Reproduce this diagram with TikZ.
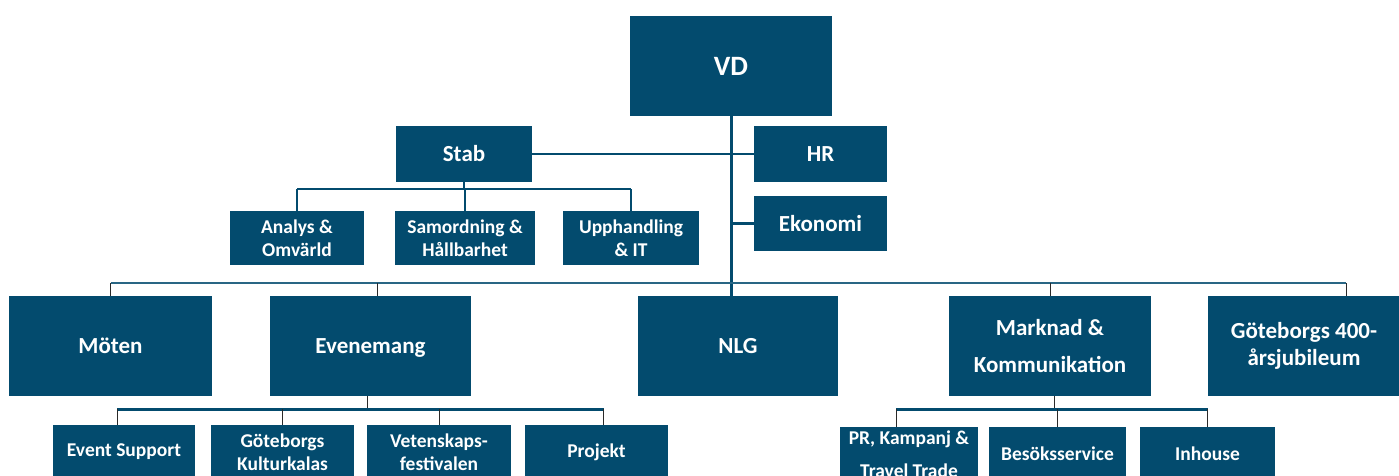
\documentclass[tikz,border=0pt]{standalone}
\usepackage{fontspec}
\setmainfont{Carlito}
\usepackage{tikz}

\definecolor{orgblue}{HTML}{034B6E}
\definecolor{dropgrey}{HTML}{2A2A2A}

\tikzset{
    unit/.style={rectangle, fill=orgblue, text=white, align=center, inner sep=0pt},
    topunit/.style={unit, minimum width=202pt, minimum height=100pt, font=\fontsize{28}{32}\selectfont\bfseries},
    mainunit/.style={unit, minimum height=100pt, font=\fontsize{23}{28}\selectfont\bfseries},
    staffunit/.style={unit, minimum height=55pt, font=\fontsize{23}{28}\selectfont\bfseries},
    subunit/.style={unit, minimum height=54pt, font=\fontsize{19.5}{23}\selectfont\bfseries},
    trunk/.style={draw=orgblue, line width=3pt},
    staff/.style={draw=orgblue, line width=2.2pt},
    bus/.style={draw=orgblue!85, line width=1.5pt},
    subbus/.style={draw=orgblue, line width=3pt},
    drop/.style={draw=dropgrey, line width=1pt}
}

\begin{document}
\begin{tikzpicture}[x=1pt, y=-1pt]
    \useasboundingbox (0,0) rectangle (1399,476);
    \clip (0,0) rectangle (1399,476);

    \node[topunit] (vd) at (731, 66) {VD};

    \node[staffunit, minimum width=136pt] (stab)    at (464, 154)     {Stab};
    \node[staffunit, minimum width=133pt] (hr)      at (820.5, 154) {HR};
    \node[staffunit, minimum width=133pt] (ekonomi) at (820.5, 223.5) {Ekonomi};

    \node[subunit, minimum width=134pt] (analys)      at (297, 238) {Analys \&\\Omvärld};
    \node[subunit, minimum width=140pt] (samordning)  at (465, 238) {Samordning \&\\Hållbarhet};
    \node[subunit, minimum width=136pt] (upphandling) at (631, 238) {Upphandling\\\& IT};

    \node[mainunit, minimum width=203pt] (moten)     at (110.5, 346) {Möten};
    \node[mainunit, minimum width=201pt, text depth=0pt] (evenemang) at (370.5, 346) {Evenemang};
    \node[mainunit, minimum width=200pt] (nlg)       at (738, 346)   {NLG};
    \node[mainunit, minimum width=202pt, font=\fontsize{23}{37}\selectfont\bfseries] (marknad) at (1050, 346) {Marknad \&\\Kommunikation};
    \node[mainunit, minimum width=192pt, font=\fontsize{23}{27}\selectfont\bfseries] (jubileum) at (1304, 346) {Göteborgs 400-\\årsjubileum};

    \node[subunit, minimum width=142pt] (eventsupport) at (124, 452)   {Event Support};
    \node[subunit, minimum width=143pt] (kulturkalas)  at (282.5, 452) {Göteborgs\\Kulturkalas};
    \node[subunit, minimum width=144pt] (vetenskap)    at (439, 452)   {Vetenskaps-\\festivalen};
    \node[subunit, minimum width=143pt] (projekt)      at (596.5, 452) {Projekt};

    \node[subunit, minimum width=138pt, font=\fontsize{19.5}{33}\selectfont\bfseries] (prkampanj) at (909, 454) {PR, Kampanj \&\\Travel Trade};
    \node[subunit, minimum width=137pt] (besok)   at (1057.5, 454) {Besöksservice};
    \node[subunit, minimum width=135pt] (inhouse) at (1207.5, 454) {Inhouse};

    % bus heights
    \coordinate (stabbus) at (0, 189);
    \coordinate (topbus)  at (0, 283);
    \coordinate (subbus)  at (0, 409);
    \coordinate (jubdrop) at (1346, 296);

    % VD and staff
    \path[trunk] (vd) edge (vd.south |- nlg.north);
    \path[staff] (stab) edge (hr);
    \path[staff] (ekonomi) edge (ekonomi.west -| vd.south);
    \path[staff] (stab) edge (stab.south |- stabbus);
    \path[staff] (analys.north |- stabbus) edge (upphandling.north |- stabbus);
    \path[staff] (analys) edge (analys.north |- stabbus);
    \path[staff] (samordning) edge (samordning.north |- stabbus);
    \path[staff] (upphandling) edge (upphandling.north |- stabbus);

    % divisions
    \path[bus] (moten.north |- topbus) edge (jubdrop |- topbus);
    \path[drop] (moten) edge (moten.north |- topbus);
    \path[drop] ([xshift=7pt]evenemang.north) edge ([xshift=7pt]evenemang.north |- topbus);
    \path[drop] (marknad) edge (marknad.north |- topbus);
    \path[drop] (jubdrop) edge (jubdrop |- topbus);

    % Evenemang
    \path[drop] ([xshift=-3pt]evenemang.south) edge ([xshift=-3pt]evenemang.south |- subbus);
    \path[subbus] ([xshift=-7pt]eventsupport.north |- subbus) edge ([xshift=7pt]projekt.north |- subbus);
    \path[drop] ([xshift=-7pt]eventsupport.north) edge ([xshift=-7pt]eventsupport.north |- subbus);
    \path[drop] (kulturkalas) edge (kulturkalas.north |- subbus);
    \path[drop] (vetenskap) edge (vetenskap.north |- subbus);
    \path[drop] ([xshift=7pt]projekt.north) edge ([xshift=7pt]projekt.north |- subbus);

    % Marknad
    \path[drop] ([xshift=4pt]marknad.south) edge ([xshift=4pt]marknad.south |- subbus);
    \path[subbus] ([xshift=-13pt]prkampanj.north |- subbus) edge (inhouse.north |- subbus);
    \path[drop] ([xshift=-13pt]prkampanj.north) edge ([xshift=-13pt]prkampanj.north |- subbus);
    \path[drop] (besok) edge (besok.north |- subbus);
    \path[drop] (inhouse) edge (inhouse.north |- subbus);
\end{tikzpicture}
\end{document}
